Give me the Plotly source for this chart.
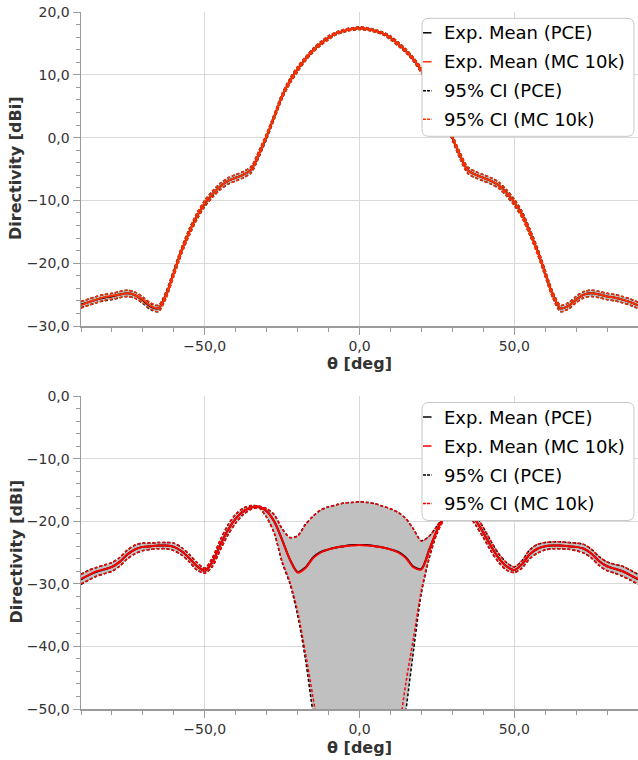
import plotly.graph_objects as go

# ---------------- data ----------------
theta = [-90, -87.5, -85, -82.5, -80, -77.5, -75, -72.5, -70, -67.5,
         -65, -62.5, -60, -57.5, -55, -52.5, -50, -47.5, -45, -42.5,
         -40, -37.5, -35, -32.5, -30, -27.5, -25, -22.5, -20, -17.5,
         -15, -12.5, -10, -7.5, -5, -2.5, 0, 2.5, 5, 7.5,
         10, 12.5, 15, 17.5, 20, 22.5, 25, 27.5, 30, 32.5,
         35, 37.5, 40, 42.5, 45, 47.5, 50, 52.5, 55, 57.5,
         60, 62.5, 65, 67.5, 70, 72.5, 75, 77.5, 80, 82.5,
         85, 87.5, 90]

# --- top panel ---
top_mean_pce = [-26.6, -26.2, -25.8, -25.5, -25.3, -25.0, -24.8, -25.1, -25.9, -26.9,
                -27.2, -25.0, -21.5, -18.0, -15.0, -12.5, -10.5, -9.0, -7.8, -6.9,
                -6.4, -5.9, -5.1, -2.6, 0.2, 3.4, 6.6, 9.0, 10.9, 12.5,
                13.9, 15.0, 15.9, 16.6, 17.0, 17.3, 17.4, 17.3, 17.0, 16.6,
                15.9, 14.9, 13.8, 12.4, 10.7, 8.7, 6.3, 3.2, 0.0, -2.9,
                -5.2, -5.9, -6.4, -6.9, -7.6, -8.8, -10.3, -12.2, -15.0, -18.0,
                -21.6, -25.1, -27.2, -26.8, -25.8, -25.0, -24.8, -25.0, -25.3, -25.5,
                -25.8, -26.2, -26.7]
top_mean_mc = [-26.7, -26.2, -25.8, -25.4, -25.2, -25.0, -24.8, -25.1, -25.8, -26.8,
               -27.2, -25.1, -21.6, -18.0, -15.1, -12.5, -10.4, -9.0, -7.8, -6.9,
               -6.4, -5.9, -5.1, -2.6, 0.3, 3.4, 6.6, 9.0, 10.9, 12.5,
               13.9, 15.0, 15.9, 16.6, 17.0, 17.3, 17.4, 17.3, 17.0, 16.6,
               15.9, 14.9, 13.8, 12.4, 10.7, 8.7, 6.3, 3.2, 0.1, -2.9,
               -5.2, -5.9, -6.4, -6.9, -7.6, -8.8, -10.3, -12.3, -15.0, -18.1,
               -21.6, -25.1, -27.2, -26.8, -25.8, -25.0, -24.8, -25.0, -25.3, -25.5,
               -25.8, -26.2, -26.7]
top_hi_pce = [-26.1, -25.7, -25.3, -25.0, -24.8, -24.5, -24.3, -24.6, -25.4, -26.4,
              -26.7, -24.5, -21.0, -17.5, -14.5, -12.0, -10.0, -8.5, -7.3, -6.4,
              -5.9, -5.4, -4.6, -2.1, 0.6, 3.8, 7.0, 9.4, 11.3, 12.8,
              14.2, 15.3, 16.2, 16.8, 17.2, 17.5, 17.6, 17.5, 17.2, 16.8,
              16.2, 15.2, 14.1, 12.7, 11.1, 9.1, 6.7, 3.6, 0.4, -2.4,
              -4.7, -5.4, -5.9, -6.4, -7.1, -8.3, -9.8, -11.7, -14.5, -17.5,
              -21.1, -24.6, -26.7, -26.3, -25.3, -24.5, -24.3, -24.5, -24.8, -25.0,
              -25.3, -25.7, -26.2]
top_lo_pce = [-27.1, -26.7, -26.3, -26.0, -25.8, -25.5, -25.3, -25.6, -26.4, -27.4,
              -27.7, -25.5, -22.0, -18.5, -15.5, -13.0, -11.0, -9.5, -8.3, -7.4,
              -6.9, -6.4, -5.6, -3.1, -0.2, 3.0, 6.2, 8.6, 10.5, 12.2,
              13.6, 14.7, 15.6, 16.4, 16.8, 17.1, 17.2, 17.1, 16.8, 16.4,
              15.6, 14.6, 13.5, 12.1, 10.3, 8.3, 5.9, 2.8, -0.4, -3.4,
              -5.7, -6.4, -6.9, -7.4, -8.1, -9.3, -10.8, -12.7, -15.5, -18.5,
              -22.1, -25.6, -27.7, -27.3, -26.3, -25.5, -25.3, -25.5, -25.8, -26.0,
              -26.3, -26.7, -27.2]
top_hi_mc = [-26.1, -25.7, -25.3, -25.0, -24.8, -24.5, -24.3, -24.6, -25.4, -26.3,
             -26.7, -24.6, -21.1, -17.5, -14.6, -12.0, -10.0, -8.5, -7.3, -6.4,
             -5.9, -5.4, -4.6, -2.1, 0.7, 3.8, 7.0, 9.4, 11.3, 12.8,
             14.2, 15.3, 16.2, 16.8, 17.2, 17.5, 17.6, 17.5, 17.2, 16.8,
             16.2, 15.2, 14.1, 12.7, 11.1, 9.1, 6.7, 3.6, 0.5, -2.4,
             -4.7, -5.4, -5.9, -6.4, -7.1, -8.3, -9.8, -11.8, -14.5, -17.6,
             -21.1, -24.6, -26.7, -26.3, -25.3, -24.5, -24.3, -24.5, -24.8, -25.0,
             -25.3, -25.7, -26.2]
top_lo_mc = [-27.2, -26.7, -26.3, -25.9, -25.7, -25.5, -25.3, -25.6, -26.3, -27.3,
             -27.7, -25.6, -22.1, -18.5, -15.6, -13.0, -10.9, -9.5, -8.3, -7.4,
             -6.9, -6.4, -5.6, -3.1, -0.1, 3.0, 6.2, 8.6, 10.5, 12.2,
             13.6, 14.7, 15.6, 16.4, 16.8, 17.1, 17.2, 17.1, 16.8, 16.4,
             15.6, 14.6, 13.5, 12.1, 10.3, 8.3, 5.9, 2.8, -0.3, -3.4,
             -5.7, -6.4, -6.9, -7.4, -8.1, -9.3, -10.8, -12.8, -15.5, -18.6,
             -22.1, -25.6, -27.7, -27.3, -26.3, -25.5, -25.3, -25.5, -25.8, -26.0,
             -26.3, -26.7, -27.2]

# --- bottom panel ---
bot_mean_pce = [-29.3, -28.6, -28.1, -27.7, -27.3, -26.5, -25.3, -24.5, -24.1, -24.0,
                -23.9, -23.9, -24.1, -24.8, -25.9, -27.2, -27.9, -26.5, -23.8, -21.4,
                -19.6, -18.4, -17.8, -17.7, -18.4, -20.1, -23.0, -26.1, -28.1, -27.4,
                -25.8, -24.9, -24.5, -24.2, -24.0, -23.8, -23.8, -23.8, -24.0, -24.2,
                -24.5, -24.9, -25.8, -27.3, -27.6, -24.6, -21.5, -19.2, -17.9, -17.6,
                -18.2, -19.8, -21.8, -24.0, -25.9, -27.2, -27.8, -26.9, -25.3, -24.4,
                -24.0, -23.9, -23.9, -24.0, -24.1, -24.4, -25.2, -26.4, -27.2, -27.6,
                -28.0, -28.6, -29.3]
bot_mean_mc = [-29.2, -28.6, -28.0, -27.7, -27.3, -26.5, -25.3, -24.5, -24.1, -24.0,
               -23.9, -23.9, -24.1, -24.8, -25.9, -27.2, -27.9, -26.5, -23.8, -21.4,
               -19.6, -18.4, -17.8, -17.7, -18.4, -20.1, -23.0, -26.1, -28.2, -27.5,
               -25.9, -25.0, -24.5, -24.2, -24.0, -23.9, -23.8, -23.9, -24.0, -24.2,
               -24.5, -25.0, -25.9, -27.4, -27.7, -24.6, -21.5, -19.2, -17.9, -17.6,
               -18.2, -19.8, -21.8, -24.0, -25.9, -27.2, -27.8, -26.9, -25.3, -24.4,
               -24.0, -23.9, -23.9, -24.0, -24.1, -24.4, -25.2, -26.4, -27.2, -27.6,
               -28.0, -28.6, -29.2]
bot_hi_pce = [-28.5, -27.8, -27.4, -27.0, -26.6, -25.8, -24.6, -23.8, -23.5, -23.5,
              -23.4, -23.4, -23.5, -24.2, -25.3, -26.6, -27.5, -25.8, -23.0, -20.6,
              -18.9, -17.9, -17.5, -17.6, -18.0, -19.0, -21.2, -22.6, -22.3, -20.5,
              -19.2, -18.2, -17.7, -17.4, -17.1, -17.0, -16.9, -17.0, -17.2, -17.6,
              -18.0, -18.6, -19.6, -21.3, -23.1, -22.4, -20.8, -19.0, -17.8, -17.4,
              -17.6, -19.0, -21.0, -23.2, -25.2, -26.6, -27.3, -26.3, -24.6, -23.7,
              -23.4, -23.3, -23.3, -23.4, -23.5, -23.7, -24.5, -25.7, -26.5, -26.9,
              -27.2, -27.8, -28.5]
bot_lo_pce = [-30.1, -29.4, -28.8, -28.4, -28.0, -27.2, -26.0, -25.2, -24.7, -24.5,
              -24.4, -24.4, -24.7, -25.4, -26.5, -27.8, -28.3, -27.2, -24.6, -22.2,
              -20.3, -18.9, -18.1, -17.9, -19.4, -22.0, -26.6, -30.0, -35.0, -42.0,
              -50.8, -60.0, -68.0, -74.0, -78.0, -80.0, -80.0, -80.0, -78.0, -74.0,
              -68.0, -60.0, -50.3, -40.5, -31.5, -26.0, -22.0, -19.6, -18.2, -17.9,
              -18.8, -20.6, -22.6, -24.8, -26.6, -27.8, -28.2, -27.5, -26.0, -25.1,
              -24.6, -24.4, -24.4, -24.5, -24.7, -25.1, -25.9, -27.1, -27.9, -28.3,
              -28.8, -29.4, -30.1]
bot_hi_mc = [-28.5, -27.9, -27.4, -27.0, -26.6, -25.8, -24.6, -23.8, -23.5, -23.5,
             -23.4, -23.4, -23.5, -24.2, -25.3, -26.6, -27.5, -25.8, -23.0, -20.6,
             -18.9, -17.9, -17.5, -17.6, -18.0, -19.0, -21.2, -22.6, -22.4, -20.6,
             -19.2, -18.2, -17.7, -17.4, -17.1, -17.0, -16.9, -17.0, -17.2, -17.6,
             -18.0, -18.6, -19.6, -21.3, -23.2, -22.4, -20.8, -19.0, -17.8, -17.4,
             -17.6, -19.0, -21.0, -23.2, -25.2, -26.6, -27.3, -26.3, -24.6, -23.7,
             -23.4, -23.3, -23.3, -23.4, -23.5, -23.7, -24.5, -25.7, -26.5, -26.9,
             -27.2, -27.8, -28.5]
bot_lo_mc = [-30.0, -29.4, -28.8, -28.4, -28.0, -27.2, -26.0, -25.2, -24.7, -24.5,
             -24.4, -24.4, -24.7, -25.4, -26.5, -27.8, -28.3, -27.2, -24.6, -22.2,
             -20.3, -18.9, -18.1, -17.9, -19.4, -22.0, -26.4, -29.7, -34.4, -41.0,
             -48.2, -56.0, -64.0, -71.0, -76.0, -78.0, -78.0, -78.0, -76.0, -71.0,
             -64.0, -54.5, -45.8, -38.5, -31.0, -25.8, -22.0, -19.6, -18.2, -17.9,
             -18.8, -20.6, -22.6, -24.8, -26.6, -27.8, -28.2, -27.5, -26.0, -25.1,
             -24.6, -24.4, -24.4, -24.5, -24.7, -25.1, -25.9, -27.1, -27.9, -28.3,
             -28.8, -29.4, -30.0]

legend_labels = ["Exp. Mean (PCE)", "Exp. Mean (MC 10k)", "95% CI (PCE)", "95% CI (MC 10k)"]
x_ticks_major = 50
y_ticks_major = 10

# ---------------- figure ----------------
W, H = 638, 760
FONT = "DejaVu Sans"
BLACK = "#000000"
GRAY_FILL = "#c0c0c0"


def pxx(x):
    return x / W


def pxy(y):
    return 1 - y / H


fig = go.Figure()


def add_panel(xa, ya, mean_pce, mean_mc, lo_pce, hi_pce, lo_mc, hi_mc, red):
    common = dict(x=theta, xaxis=xa, yaxis=ya, mode="lines", showlegend=False)
    sp = dict(shape="spline", smoothing=0.8)
    fig.add_trace(go.Scatter(y=lo_pce, line=dict(width=0, color=GRAY_FILL, **sp),
                             hoverinfo="skip", **common))
    fig.add_trace(go.Scatter(y=hi_pce, line=dict(width=0, color=GRAY_FILL, **sp),
                             fill="tonexty", fillcolor=GRAY_FILL, hoverinfo="skip", **common))
    fig.add_trace(go.Scatter(y=mean_pce, name=legend_labels[0],
                             line=dict(width=2, color=BLACK, **sp), **common))
    fig.add_trace(go.Scatter(y=lo_pce, name=legend_labels[2],
                             line=dict(width=1.5, color=BLACK, dash="3px,2px", **sp), **common))
    fig.add_trace(go.Scatter(y=hi_pce, name=legend_labels[2],
                             line=dict(width=1.5, color=BLACK, dash="3px,2px", **sp), **common))
    fig.add_trace(go.Scatter(y=mean_mc, name=legend_labels[1],
                             line=dict(width=2, color=red, **sp), **common))
    fig.add_trace(go.Scatter(y=lo_mc, name=legend_labels[3],
                             line=dict(width=1.5, color=red, dash="3px,2px", **sp), **common))
    fig.add_trace(go.Scatter(y=hi_mc, name=legend_labels[3],
                             line=dict(width=1.5, color=red, dash="3px,2px", **sp), **common))


RED_TOP = "#ff3000"
RED_BOT = "#ff0000"
add_panel("x", "y", top_mean_pce, top_mean_mc, top_lo_pce, top_hi_pce, top_lo_mc, top_hi_mc, RED_TOP)
add_panel("x2", "y2", bot_mean_pce, bot_mean_mc, bot_lo_pce, bot_hi_pce, bot_lo_mc, bot_hi_mc, RED_BOT)

AX_COLOR = "#9a9a9a"
axis_common = dict(showline=True, linecolor=AX_COLOR, linewidth=1.5,
                   ticks="outside", ticklen=7, tickwidth=1, tickcolor=AX_COLOR,
                   showgrid=True, gridcolor="#d9d9d9", gridwidth=1, zeroline=False,
                   tickfont=dict(family=FONT, size=14, color="#333333"),
                   tickformat=".1f", fixedrange=True, automargin=False)

x_dom = [81 / W, 1.0]
top_dom = [pxy(326), pxy(12)]
bot_dom = [pxy(709), pxy(396)]

fig.update_layout(
    width=W, height=H,
    margin=dict(l=0, r=0, t=0, b=0, autoexpand=False),
    paper_bgcolor="white", plot_bgcolor="white",
    separators=", ",
    showlegend=False,
    xaxis=dict(domain=x_dom, anchor="y", range=[-90, 90], tick0=0, dtick=x_ticks_major,
               minor=dict(dtick=10, tick0=0, ticks="outside", ticklen=4, tickcolor=AX_COLOR, showgrid=False),
               **axis_common),
    yaxis=dict(domain=top_dom, anchor="x", range=[-30, 20], tick0=0, dtick=y_ticks_major,
               minor=dict(dtick=2, tick0=0, ticks="outside", ticklen=4, tickcolor=AX_COLOR, showgrid=False),
               **axis_common),
    xaxis2=dict(domain=x_dom, anchor="y2", range=[-90, 90], tick0=0, dtick=x_ticks_major,
                minor=dict(dtick=10, tick0=0, ticks="outside", ticklen=4, tickcolor=AX_COLOR, showgrid=False),
                **axis_common),
    yaxis2=dict(domain=bot_dom, anchor="x2", range=[-50, 0], tick0=0, dtick=y_ticks_major,
                minor=dict(dtick=2, tick0=0, ticks="outside", ticklen=4, tickcolor=AX_COLOR, showgrid=False),
                **axis_common),
)

shapes = []
annotations = []

# axis titles
for (yc, xt_y) in [(169, 364), (552.5, 747)]:
    annotations.append(dict(text="<b>Directivity [dBi]</b>", x=pxx(16), y=pxy(yc),
                            xref="paper", yref="paper", showarrow=False, textangle=-90,
                            xanchor="center", yanchor="middle",
                            font=dict(family=FONT, size=16, color="#333333")))
    annotations.append(dict(text="<b>θ [deg]</b>", x=pxx(360), y=pxy(xt_y),
                            xref="paper", yref="paper", showarrow=False,
                            xanchor="center", yanchor="middle",
                            font=dict(family=FONT, size=16, color="#333333")))


def rounded_rect(x0, y0, x1, y1, r):
    # pixel coords -> paper path
    def P(x, y):
        return f"{pxx(x):.5f},{pxy(y):.5f}"
    return (f"M {P(x0 + r, y0)} L {P(x1 - r, y0)} Q {P(x1, y0)} {P(x1, y0 + r)} "
            f"L {P(x1, y1 - r)} Q {P(x1, y1)} {P(x1 - r, y1)} "
            f"L {P(x0 + r, y1)} Q {P(x0, y1)} {P(x0, y1 - r)} "
            f"L {P(x0, y0 + r)} Q {P(x0, y0)} {P(x0 + r, y0)} Z")


def add_legend(top, red):
    x0, x1 = 422, 634
    y0, y1 = top, top + 118
    shapes.append(dict(type="path", path=rounded_rect(x0, y0, x1, y1, 7),
                       xref="paper", yref="paper", layer="above",
                       fillcolor="white", line=dict(color="#c8c8c8", width=1)))
    rows = [top + 14.5, top + 43.5, top + 72.5, top + 101]
    styles = [(BLACK, "solid"), (red, "solid"), (BLACK, "3px,1px"), (red, "3px,1px")]
    for lab, ry, (col, dash) in zip(legend_labels, rows, styles):
        shapes.append(dict(type="line", x0=pxx(423), x1=pxx(431.5), y0=pxy(ry), y1=pxy(ry),
                           xref="paper", yref="paper", layer="above",
                           line=dict(color=col, width=1.5, dash=dash)))
        annotations.append(dict(text=lab, x=pxx(442), y=pxy(ry), xref="paper", yref="paper",
                                showarrow=False, xanchor="left", yanchor="middle",
                                font=dict(family=FONT, size=18, color="#000000")))


add_legend(18.3, RED_TOP)
add_legend(402.5, RED_BOT)

fig.update_layout(shapes=shapes, annotations=annotations)

fig.write_html("out.html",
               config={"displayModeBar": False, "staticPlot": True},
               post_script="document.body.style.margin='0';document.body.style.overflow='hidden';")
